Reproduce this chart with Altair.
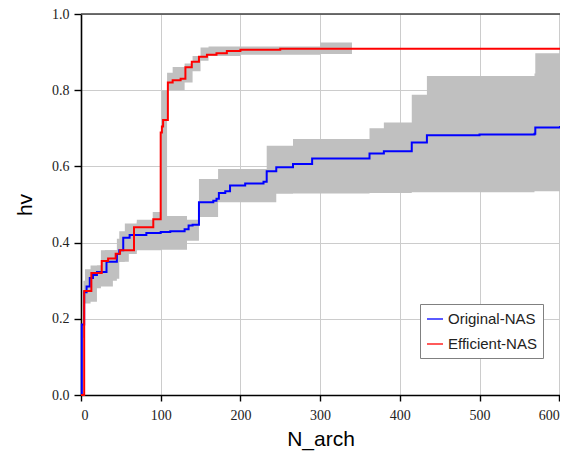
import altair as alt
import pandas as pd

# Original-NAS mean curve
orig_x = [0, 1, 4, 7, 11, 15, 20, 32, 45, 48, 53, 61, 82, 100, 112, 130, 135, 140, 148, 166, 170, 173, 181, 187, 206, 229, 233, 245, 266, 290, 362, 380, 415, 434, 500, 569, 570, 601]
orig_y = [0, 0.185, 0.27, 0.285, 0.307, 0.315, 0.323, 0.35, 0.37, 0.38, 0.413, 0.42, 0.425, 0.428, 0.43, 0.435, 0.445, 0.447, 0.506, 0.51, 0.515, 0.53, 0.535, 0.55, 0.555, 0.56, 0.587, 0.598, 0.606, 0.621, 0.634, 0.64, 0.663, 0.682, 0.684, 0.686, 0.702, 0.706]

# Efficient-NAS mean curve
eff_x = [0, 4, 13, 26, 34, 43.5, 49, 66.5, 90.7, 100, 101.5, 103, 109, 115, 125, 131, 139, 148, 158, 170, 183, 200, 250, 601]
eff_y = [0, 0.273, 0.32, 0.352, 0.358, 0.371, 0.38, 0.44, 0.461, 0.689, 0.705, 0.722, 0.82, 0.826, 0.83, 0.86, 0.875, 0.888, 0.893, 0.897, 0.903, 0.906, 0.909, 0.91]

# Original-NAS spread band
orig_band_x = [0, 2, 5, 20, 30, 40, 48, 55, 70, 100, 133, 148, 172, 233, 245, 266, 362, 380, 415, 434, 569, 570, 601]
orig_band_lo = [0, 0.15, 0.245, 0.285, 0.285, 0.305, 0.35, 0.375, 0.381, 0.381, 0.405, 0.467, 0.506, 0.506, 0.528, 0.529, 0.53, 0.53, 0.532, 0.532, 0.535, 0.535, 0.535]
orig_band_hi = [0, 0.22, 0.33, 0.34, 0.38, 0.38, 0.43, 0.45, 0.46, 0.47, 0.46, 0.567, 0.593, 0.654, 0.654, 0.672, 0.70, 0.715, 0.788, 0.837, 0.844, 0.897, 0.897]

# Efficient-NAS spread band
eff_band_x = [0, 3, 12, 25, 45, 60, 70, 90, 101, 108, 115, 130, 140, 150, 160, 200, 300, 340]
eff_band_lo = [0, 0.24, 0.28, 0.30, 0.35, 0.37, 0.38, 0.38, 0.47, 0.80, 0.80, 0.82, 0.85, 0.877, 0.89, 0.893, 0.895, 0.895]
eff_band_hi = [0, 0.30, 0.34, 0.38, 0.41, 0.44, 0.455, 0.48, 0.80, 0.846, 0.861, 0.87, 0.89, 0.912, 0.915, 0.915, 0.925, 0.925]

series_names = ["Original-NAS", "Efficient-NAS"]
series_colors = ["#0000ff", "#ff0000"]

x_ticks = list(range(0, 601, 50))
y_ticks = [round(i * 0.1, 1) for i in range(11)]
x_max = 601

lines = pd.concat([
    pd.DataFrame({"x": orig_x, "y": orig_y, "series": series_names[0]}),
    pd.DataFrame({"x": eff_x, "y": eff_y, "series": series_names[1]}),
])
bands = pd.concat([
    pd.DataFrame({"x": orig_band_x, "lo": orig_band_lo, "hi": orig_band_hi, "series": series_names[0]}),
    pd.DataFrame({"x": eff_band_x, "lo": eff_band_lo, "hi": eff_band_hi, "series": series_names[1]}),
])

x_scale = alt.Scale(domain=[0, x_max], nice=False, zero=False)
y_scale = alt.Scale(domain=[0, 1.0], nice=False)

x_axis = alt.Axis(
    values=x_ticks,
    labelExpr="datum.value % 100 == 0 ? datum.label : ''",
    title="N_arch",
    grid=True,
    gridOpacity={"condition": {"test": "datum.value % 100 == 0", "value": 1}, "value": 0},
    tickSize={"condition": {"test": "datum.value % 100 == 0", "value": 6}, "value": 3},
    labelPadding=7,
    titlePadding=6,
)
y_axis = alt.Axis(
    values=y_ticks,
    labelExpr="round(datum.value*10) % 2 == 0 ? format(datum.value, '.1f') : ''",
    title="hv",
    grid=True,
    gridOpacity={"condition": {"test": "round(datum.value*10) % 2 == 0", "value": 1}, "value": 0},
    tickSize={"condition": {"test": "round(datum.value*10) % 2 == 0", "value": 7}, "value": 3},
    labelPadding=5,
    titlePadding=16,
)

band_layer = alt.Chart(bands).mark_area(interpolate="step-after", color="#c0c0c0", opacity=1).encode(
    x=alt.X("x:Q", scale=x_scale, axis=x_axis),
    y=alt.Y("lo:Q", scale=y_scale, axis=y_axis),
    y2="hi:Q",
    detail="series:N",
)

line_layer = alt.Chart(lines).mark_line(interpolate="step-after", strokeWidth=2).encode(
    x=alt.X("x:Q", scale=x_scale),
    y=alt.Y("y:Q", scale=y_scale),
    color=alt.Color(
        "series:N",
        scale=alt.Scale(domain=series_names, range=series_colors),
        legend=alt.Legend(
            orient="none", legendX=339, legendY=290, title=None,
            symbolType="stroke", symbolSize=256, symbolStrokeWidth=1.3,
            labelFont="Liberation Sans", labelFontSize=15, labelColor="#222222",
            labelOffset=4, rowPadding=8, padding=6,
            strokeColor="#808080", fillColor="#ffffff",
        ),
    ),
)

top_line = alt.Chart(pd.DataFrame({"a": [0]})).mark_rule(color="#404040", strokeWidth=1.6).encode(
    x=alt.datum(0, scale=x_scale),
    x2=alt.datum(x_max),
    y=alt.datum(1.0, scale=y_scale),
)

chart = alt.layer(band_layer, line_layer, top_line).properties(
    width=479, height=381,
    autosize=alt.AutoSizeParams(type="none"),
    padding={"left": 73, "top": 6, "right": 0, "bottom": 57},
).configure_view(stroke=None).configure_axis(
    domainColor="#000000", domainWidth=1.6,
    tickColor="#000000", tickWidth=1.4,
    gridColor="#cccccc", gridWidth=1,
    labelFont="Liberation Serif, DejaVu Serif, serif", labelFontSize=14, labelColor="#222222",
    titleFont="Liberation Sans", titleFontSize=21, titleFontWeight="normal", titleColor="#000000",
)

chart.save("out.html", embed_options={"renderer": "svg", "actions": False})
